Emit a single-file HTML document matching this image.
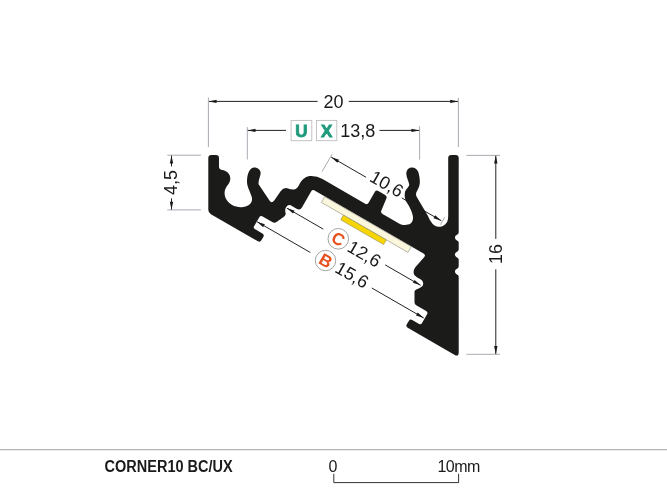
<!DOCTYPE html>
<html><head><meta charset="utf-8"><style>
html,body{margin:0;padding:0;background:#fff;}
body{width:667px;height:500px;overflow:hidden;position:relative;font-family:"Liberation Sans",sans-serif;}
svg{position:absolute;left:0;top:0;will-change:transform;}
</style></head><body>
<svg width="667" height="500" viewBox="0 0 667 500">
<g fill="none" stroke="#a0a0aa" stroke-width="0.9">
<path d="M 208.4 97.5 L 208.4 147 M 458.4 98 L 458.4 147"/>
<path d="M 247.3 127 L 247.3 159.5 M 419.6 126.2 L 419.6 159.6"/>
<path d="M 167.3 155.2 L 200.9 155.2 M 167.3 209.9 L 200.9 209.9"/>
<path d="M 466.4 155.4 L 500 155.4 M 466.4 354.3 L 500 354.3"/>
<path d="M 321.99 171.70 L 332.24 153.94 M 440.31 224.77 L 444.71 217.15"/>
</g>
<g fill="none" stroke="#222" stroke-width="1">
<path d="M 209 101.4 L 317.6 101.4 M 348.8 101.4 L 458 101.4"/>
<path d="M 247.8 130.4 L 286 130.4 M 379.5 130.4 L 419.2 130.4"/>
<path d="M 171.5 155.6 L 171.5 166.4 M 171.5 198.4 L 171.5 209.5"/>
<path d="M 495.8 155.8 L 495.8 238.9 M 495.8 269.3 L 495.8 354"/>
<path d="M 331.28 157.20 L 366.10 177.30 M 401.86 197.95 L 441.27 220.70 M 286.87 208.12 L 323.25 229.12 M 385.17 264.87 L 420.67 285.37 M 257.07 221.74 L 310.33 252.49 M 371.82 287.99 L 423.78 317.99"/>
</g>
<g fill="#1a1a1a">
<path d="M 208.60 101.40 L 216.60 99.70 L 216.60 103.10 Z M 458.20 101.40 L 450.20 103.10 L 450.20 99.70 Z"/>
<path d="M 247.50 130.40 L 255.50 128.70 L 255.50 132.10 Z M 419.40 130.40 L 411.40 132.10 L 411.40 128.70 Z"/>
<path d="M 171.50 155.40 L 173.20 163.40 L 169.80 163.40 Z M 171.50 209.70 L 169.80 201.70 L 173.20 201.70 Z"/>
<path d="M 495.80 155.60 L 497.50 163.60 L 494.10 163.60 Z M 495.80 354.10 L 494.10 346.10 L 497.50 346.10 Z"/>
<path d="M 331.28 157.20 L 339.06 159.73 L 337.36 162.67 Z M 441.27 220.70 L 433.49 218.17 L 435.19 215.23 Z M 286.87 208.12 L 294.65 210.65 L 292.95 213.59 Z M 420.67 285.37 L 412.90 282.84 L 414.60 279.90 Z M 257.07 221.74 L 264.85 224.27 L 263.15 227.21 Z M 423.78 317.99 L 416.00 315.46 L 417.70 312.52 Z"/>
</g>
<path fill="#1b1b19" d="M 208.3 158 Q 208.3 155 211.3 155 L 216 155 Q 219 155 219 158 L 219 166.8
Q 219.2 169.6 222 170
C 226.8 170.6 230.3 173.8 230.3 178.5
C 230.3 182 228.6 184 227 186
C 224.3 189.5 223.8 194.5 225.8 198.6
C 229 204.5 235 207.4 241.5 207.2
C 247.5 207 252.5 203.5 252 198.5
C 251.5 193.5 247 188 247 181.5
C 247 173.5 250 167.4 254.3 167.4
C 258.3 167.4 261 170.3 260.6 173.8
C 260.2 177.3 258.2 180.3 258.6 184.3
L 269.3 200.3 Q 271.6 204 274.2 200.5 L 280.6 191.2 Q 283.3 187.6 287.2 188.2 Q 291 189.8 294 189.6 Q 297.5 189 299.8 183.6
C 302.6 178.6 306.3 176 311.3 176 Q 317.2 176 322.5 179.05 L 365.18 203.68 Q 367.35 204.93 368.60 202.77 L 374.90 191.85 Q 376.15 189.69 378.32 190.94 L 385.16 194.89 Q 387.32 196.14 386.36 198.45 L 381.36 210.39 Q 380.40 212.70 382.56 213.96 L 399.00 223.50 C 402.5 225.5 407.5 225.6 410.5 223.6 C 413 221.6 413.5 218.5 412.6 215 C 411.8 210.5 408.5 205 406.2 201.5
C 404.5 198.5 404.2 194 405.4 190.8 C 407 188 409.5 186.5 409.2 184.5 C 408.8 181 406.2 177.5 406.3 173.5 C 406.5 169.5 408.8 167.4 411.8 167.4 C 415 167.4 417.3 169.3 418.3 172 C 419.3 175 420 179.5 419.8 183 C 419.6 187.5 417.2 190.2 416.3 192.5 C 415.8 194.2 416 195.5 416.8 197
L 428 216 C 430.5 222 434 226.8 438.6 226.8 C 442.8 226.8 446 224.5 447.3 221.5 C 448 219.5 448.2 217.5 448.2 215
L 448.2 158 Q 448.2 155 451.2 155 L 455.7 155 Q 458.7 155 458.7 158 L 458.7 232.6 Q 458.6 234.2 456.6 235.0 Q 454.9 235.9 454.9 237.6 Q 454.9 239.3 456.6 240.2 Q 458.6 241.0 458.7 242.6 L 458.7 249.6 Q 458.6 251.2 456.6 252.0 Q 454.9 252.9 454.9 254.6 Q 454.9 256.3 456.6 257.2 Q 458.6 258.0 458.7 259.6 L 458.7 266.6 Q 458.6 268.2 456.6 269.0 Q 454.9 269.9 454.9 271.6 Q 454.9 273.3 456.6 274.2 Q 458.6 275.0 458.7 276.6 L 458.7 277.5 L 458.70 352.23 Q 458.70 357.23 454.37 354.73 L 407.73 327.78 Q 405.57 326.53 406.82 324.37 L 408.82 320.90 Q 410.07 318.74 412.24 319.99 L 419.16 323.99 Q 420.90 324.99 421.90 323.26 L 427.05 314.34 Q 428.30 312.17 426.13 310.92 L 416.23 305.22 Q 414.50 304.23 414.50 302.23 L 414.50 291.50 C 414.5 290.2 417.5 289 420 287.8 C 422.5 286.5 423.3 285.5 423.2 283.2 C 423 281 421.5 279.8 419.5 278.7 C 416.5 277.2 413.6 275.5 413.6 272.3 C 413.6 270 414.3 268.5 415.5 266.9 L 424.11 257.21 Q 426.10 254.97 423.50 253.47 L 314.13 190.31 Q 312.40 189.31 311.40 191.04 L 302.07 207.20 Q 300.07 210.66 296.61 208.66 L 290.60 205.20 C 288.5 204.2 286.2 206.2 285.5 208.5 C 285 210.2 285.2 211.7 285.6 213.2 C 285.9 214.7 285 216.2 283.6 217.0 L 276.50 221.93 Q 274.45 223.36 272.28 222.11 L 262.19 216.27 Q 260.46 215.27 259.46 217.00 L 254.06 226.36 Q 253.06 228.09 254.79 229.09 L 262.41 233.49 Q 264.58 234.74 263.33 236.90 L 261.33 240.37 Q 260.08 242.53 257.91 241.28 L 210.90 214.15 Q 208.30 212.65 208.30 209.65 L 208.30 158.00 Z"/>
<path fill="#fbf7dc" stroke="#9a998c" stroke-width="0.7" d="M 324.66 196.68 L 411.26 246.68 L 407.96 252.39 L 321.36 202.39 Z"/>
<path fill="#f7d500" stroke="#8f8a50" stroke-width="0.6" d="M 343.44 215.14 L 386.31 239.89 L 383.61 244.57 L 340.74 219.82 Z"/>
<g font-family="Liberation Sans, sans-serif" font-size="18" fill="#1a1a1a" text-anchor="middle">
<text x="333.6" y="108.3">20</text>
<text x="357.8" y="137.2">13,8</text>
<text transform="translate(177.1 182.4) rotate(-90)">4,5</text>
<text transform="translate(502 254) rotate(-90)">16</text>
<text transform="translate(386.79 184.06) rotate(30) translate(0 6)">10,6</text>
<text transform="translate(364.18 254.02) rotate(30) translate(0 6)">12,6</text>
<text transform="translate(351.94 275.02) rotate(30) translate(0 6)">15,6</text>
</g>
<g fill="#fff" stroke="#bdbdbd" stroke-width="0.9">
<rect x="291.1" y="120.4" width="20.7" height="20.3"/>
<rect x="316.4" y="120.4" width="20.4" height="20.3"/>
</g>
<g font-family="Liberation Sans, sans-serif" font-weight="bold" font-size="17" fill="#1f9a7c" stroke="#1f9a7c" stroke-width="0.8" text-anchor="middle">
<text x="301.4" y="137.3">U</text>
<text x="326.6" y="137.3">X</text>
</g>
<g fill="#fff" stroke="#9a9a9a" stroke-width="0.9">
<circle cx="338.30" cy="238.80" r="10.3"/>
<circle cx="325.50" cy="260.50" r="10.2"/>
</g>
<g font-family="Liberation Sans, sans-serif" font-weight="bold" font-size="17" fill="#e8501f" text-anchor="middle">
<text transform="translate(338.30 238.80) rotate(30) translate(0 6.1)">C</text>
<text transform="translate(325.50 260.50) rotate(30) translate(0.3 6.1)">B</text>
</g>
<line x1="0" y1="449.6" x2="667" y2="449.6" stroke="#b4b4b8" stroke-width="1.3"/>
<text x="104.6" y="472" font-family="Liberation Sans, sans-serif" font-weight="bold" font-size="16" fill="#1a1a1a" textLength="128" lengthAdjust="spacingAndGlyphs">CORNER10 BC/UX</text>
<g font-family="Liberation Sans, sans-serif" font-size="16" fill="#1a1a1a">
<text x="328.6" y="471.6">0</text>
<text x="437.4" y="471.6" letter-spacing="-0.5">10mm</text>
</g>
<path d="M 333.8 473.8 L 333.8 482.6 L 458.6 482.6 L 458.6 473.8" fill="none" stroke="#333" stroke-width="1"/>
</svg>
</body></html>
